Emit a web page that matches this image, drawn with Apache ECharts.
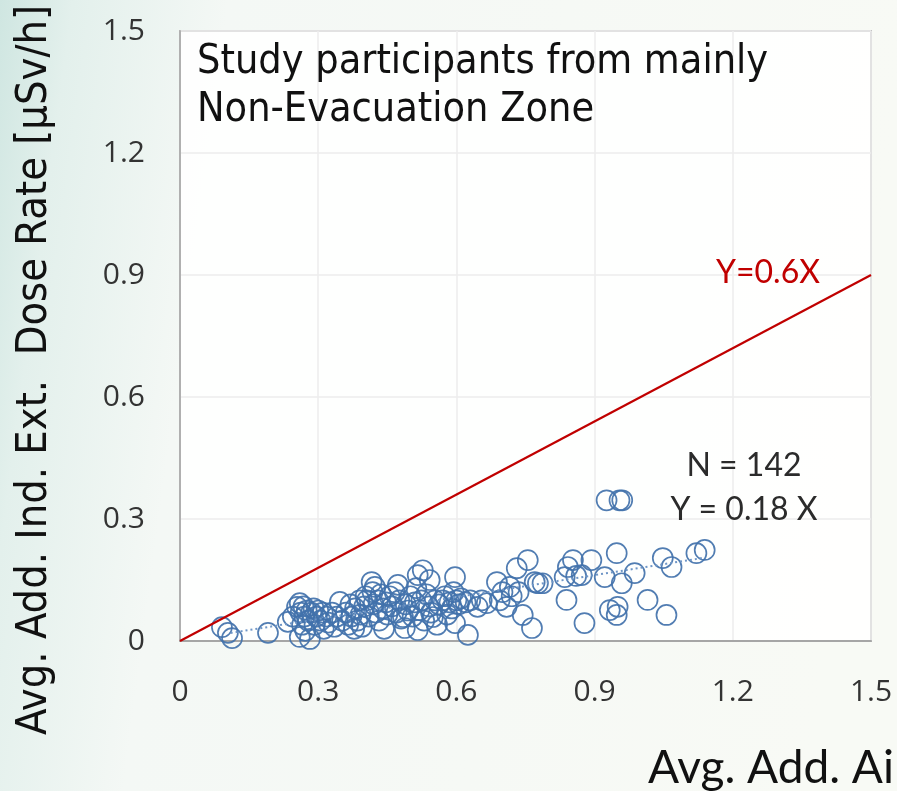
<!DOCTYPE html>
<html>
<head>
<meta charset="utf-8">
<script src="https://cdn.jsdelivr.net/npm/echarts@6/dist/echarts.min.js"></script>
<style>
  html, body { margin: 0; padding: 0; }
  #chart { width: 897px; height: 791px; }
</style>
</head>
<body>
<div id="chart"></div>
<script>
// Axis ticks (both axes share the same scale)
const tickValues = [0, 0.3, 0.6, 0.9, 1.2, 1.5];

// Individual participants: additional air dose rate (x) vs. additional
// individual external dose rate (y), both in µSv/h
const airDose = [
  0.091, 0.104, 0.113, 0.191, 0.234,
  0.245, 0.254, 0.260, 0.262, 0.265, 0.268, 0.270, 0.272, 0.275, 0.278, 0.282, 0.285, 0.290, 0.292,
  0.296, 0.300, 0.305, 0.310, 0.312, 0.318, 0.322, 0.330, 0.335, 0.340, 0.347, 0.352, 0.260,
  0.360, 0.365, 0.370, 0.372, 0.378, 0.380, 0.385, 0.390, 0.392, 0.395, 0.400, 0.403, 0.406, 0.410,
  0.416, 0.418, 0.420, 0.423, 0.425, 0.430, 0.432, 0.436, 0.440, 0.443, 0.447, 0.450, 0.455, 0.460,
  0.466, 0.470, 0.473, 0.476, 0.480, 0.484, 0.488, 0.490, 0.495, 0.500,
  0.505, 0.510, 0.513, 0.516, 0.516, 0.520, 0.524, 0.527, 0.530, 0.535, 0.540, 0.542, 0.545, 0.549,
  0.553, 0.558, 0.562, 0.570, 0.575, 0.580, 0.585, 0.590, 0.594, 0.597, 0.597, 0.600, 0.605, 0.610,
  0.620, 0.625, 0.630, 0.646, 0.655, 0.666,
  0.688, 0.694, 0.700, 0.709, 0.716, 0.720, 0.731, 0.735, 0.744, 0.755, 0.764, 0.770, 0.777, 0.787,
  0.835, 0.839, 0.842, 0.853, 0.860, 0.872, 0.878, 0.893, 0.922, 0.926, 0.933, 0.948, 0.948, 0.950,
  0.954, 0.959, 0.960, 0.987, 1.015, 1.048, 1.056, 1.067, 1.121, 1.139
];
const indDose = [
  0.034, 0.020, 0.007, 0.020, 0.047,
  0.060, 0.084, 0.093, 0.070, 0.040, 0.085, 0.060, 0.025, 0.075, 0.050, 0.005, 0.070, 0.080, 0.040,
  0.060, 0.075, 0.050, 0.070, 0.030, 0.060, 0.045, 0.070, 0.035, 0.060, 0.096, 0.050, 0.010,
  0.070, 0.040, 0.090, 0.060, 0.030, 0.080, 0.050, 0.100, 0.065, 0.035, 0.085, 0.110, 0.100, 0.060,
  0.145, 0.120, 0.090, 0.133, 0.070, 0.100, 0.050, 0.115, 0.080, 0.030, 0.095, 0.065, 0.110, 0.085,
  0.120, 0.070, 0.138, 0.100, 0.055, 0.059, 0.032, 0.090, 0.075, 0.110,
  0.060, 0.095, 0.130, 0.162, 0.027, 0.076, 0.100, 0.174, 0.050, 0.115, 0.085, 0.150, 0.070, 0.059,
  0.100, 0.040, 0.090, 0.100, 0.110, 0.065, 0.095, 0.080, 0.120, 0.157, 0.044, 0.100, 0.090, 0.105,
  0.095, 0.015, 0.100, 0.084, 0.100, 0.093,
  0.145, 0.100, 0.120, 0.084, 0.133, 0.110, 0.179, 0.120, 0.064, 0.199, 0.032, 0.145, 0.142, 0.142,
  0.157, 0.101, 0.182, 0.199, 0.160, 0.162, 0.044, 0.199, 0.157, 0.346, 0.076, 0.216, 0.064, 0.084,
  0.346, 0.142, 0.346, 0.167, 0.101, 0.204, 0.064, 0.182, 0.216, 0.224
];

// Fitted slope of the participants and the reference line slope
const fitSlope = 0.18;
const fitRange = [0.11, 1.14];
const refSlope = 0.6;
const refRange = [0, 1.5];
const sampleSize = 142;

const points = airDose.map((x, i) => [x, indDose[i]]);
const fitLine = fitRange.map(x => [x, +(fitSlope * x).toFixed(4)]);
const refLine = refRange.map(x => [x, +(refSlope * x).toFixed(4)]);

const tickFmt = v => (v === 0 ? '0' : v.toFixed(1));
const tickFont = '"Open Sans", Lato, sans-serif';
const condensed = '"DejaVu Sans Condensed", "DejaVu Sans", sans-serif';

const chart = echarts.init(document.getElementById('chart'), null, { renderer: 'canvas' });

chart.setOption({
  animation: false,
  backgroundColor: {
    type: 'linear', x: 0, y: 0, x2: 1, y2: 0.15,
    colorStops: [
      { offset: 0, color: '#cfe6e1' },
      { offset: 0.08, color: '#e3f0ec' },
      { offset: 0.25, color: '#f4f8f5' },
      { offset: 1, color: '#f8faf5' }
    ]
  },
  grid: {
    left: 180, top: 31, right: 26, bottom: 150,
    show: true,
    backgroundColor: 'rgba(255,255,255,0.88)',
    borderColor: '#c4c4c4',
    borderWidth: 2
  },
  xAxis: {
    type: 'value',
    min: tickValues[0], max: tickValues[tickValues.length - 1], interval: 0.3,
    axisLine: { show: true, lineStyle: { color: '#a6a6a6', width: 2 } },
    axisTick: { show: false },
    splitLine: { show: true, lineStyle: { color: '#ececec', width: 1.5 } },
    axisLabel: {
      formatter: tickFmt, margin: 36,
      color: '#333', fontSize: 30, fontFamily: tickFont
    }
  },
  yAxis: {
    type: 'value',
    min: tickValues[0], max: tickValues[tickValues.length - 1], interval: 0.3,
    axisLine: { show: true, lineStyle: { color: '#b0b0b0', width: 2 } },
    axisTick: { show: false },
    splitLine: { show: true, lineStyle: { color: '#ececec', width: 1.5 } },
    axisLabel: {
      formatter: tickFmt, margin: 35,
      color: '#333', fontSize: 30, fontFamily: tickFont
    }
  },
  series: [
    {
      type: 'scatter',
      data: points,
      symbol: 'circle',
      symbolSize: 20,
      itemStyle: { color: 'rgba(255,255,255,0)', borderColor: '#4272ab', borderWidth: 1.7, opacity: 0.92 },
      z: 3
    },
    {
      type: 'line',
      data: fitLine,
      showSymbol: false,
      lineStyle: { color: '#6f96c6', width: 2, type: [2, 3] },
      z: 4
    },
    {
      type: 'line',
      data: refLine,
      showSymbol: false,
      lineStyle: { color: '#c00000', width: 2.2 },
      z: 5
    }
  ],
  graphic: [
    {
      type: 'text', left: 197, top: 38, z: 10,
      style: {
        text: 'Study participants from mainly\nNon-Evacuation Zone',
        font: '41px ' + condensed, lineHeight: 48, fill: '#111'
      }
    },
    {
      type: 'text', x: 35, y: 370, rotation: Math.PI / 2, z: 10,
      style: {
        text: 'Avg. Add. Ind. Ext.  Dose Rate [μSv/h]',
        font: '43px ' + condensed, fill: '#111',
        align: 'center', verticalAlign: 'middle'
      }
    },
    {
      type: 'text', x: 648, y: 768, z: 10,
      style: {
        text: 'Avg. Add. Air Dose Rate [μSv/h]',
        font: '46px Lato, sans-serif', fill: '#111',
        align: 'left', verticalAlign: 'middle'
      }
    },
    {
      type: 'text', x: 768, y: 273, z: 10,
      style: {
        text: 'Y=' + refSlope + 'X',
        font: '32px Lato, sans-serif', fill: '#c00000',
        align: 'center', verticalAlign: 'middle'
      }
    },
    {
      type: 'text', x: 744, y: 466, z: 10,
      style: {
        text: 'N = ' + sampleSize,
        font: '32px Lato, sans-serif', fill: '#2b2b2b',
        align: 'center', verticalAlign: 'middle'
      }
    },
    {
      type: 'text', x: 744, y: 510, z: 10,
      style: {
        text: 'Y = ' + fitSlope + ' X',
        font: '32px Lato, sans-serif', fill: '#2b2b2b',
        align: 'center', verticalAlign: 'middle'
      }
    }
  ]
});
</script>
</body>
</html>
